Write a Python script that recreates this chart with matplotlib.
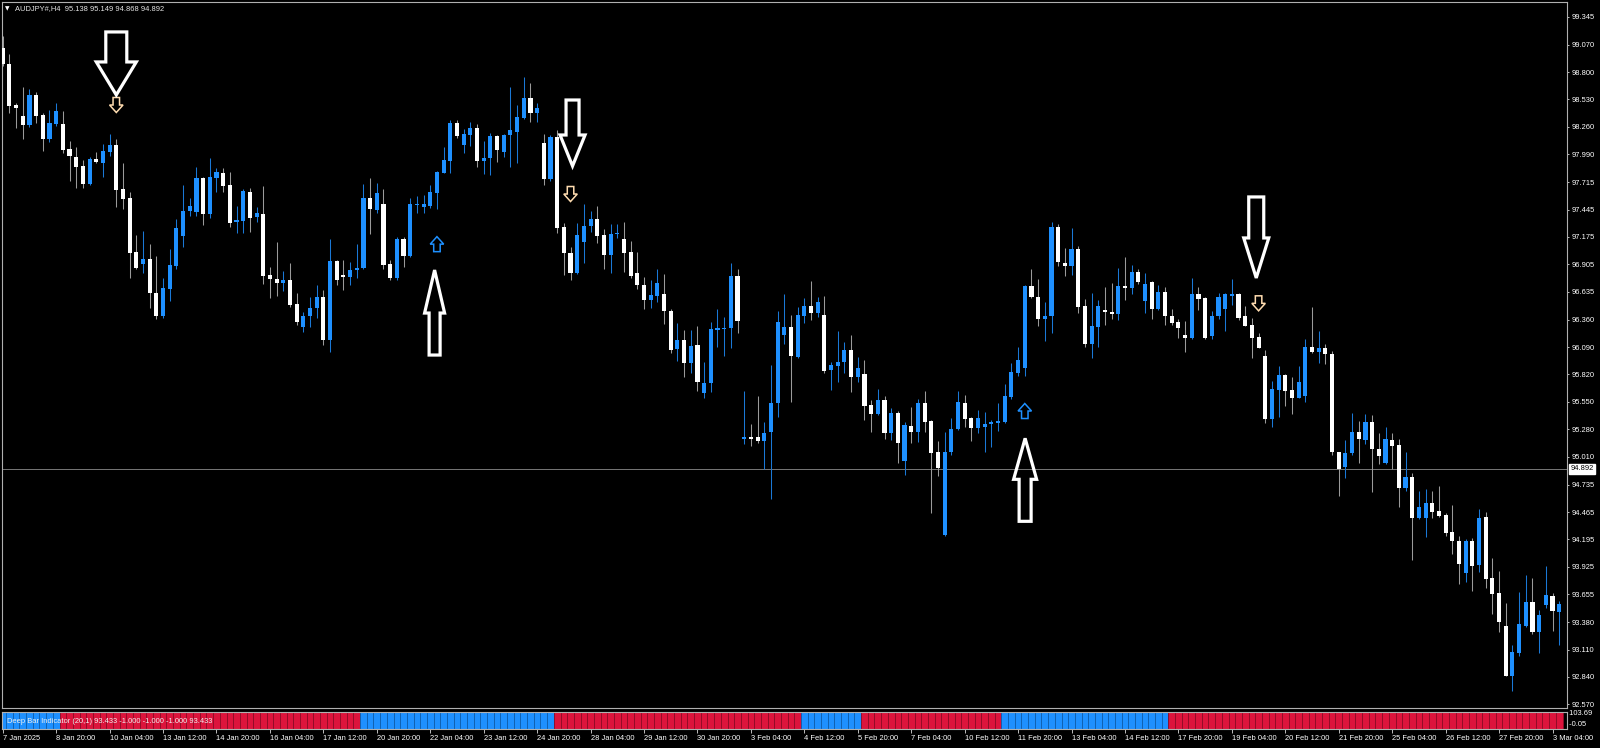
import numpy as np
import matplotlib
matplotlib.use('Agg')
import matplotlib.pyplot as plt
from matplotlib.patches import Polygon

plt.rcParams['font.family'] = ['Liberation Sans', 'DejaVu Sans']

# AUDJPY H4, 7 Jan 2025 12:00 .. 3 Mar 2025 08:00
opens = [
    99.037, 98.879, 98.475, 98.367, 98.278, 98.573, 98.377, 98.137, 98.288, 98.288,
    98.039, 97.960, 97.874, 97.694, 97.944, 97.901, 98.015, 98.081, 97.645, 97.562,
    97.030, 96.906, 96.955, 96.626, 96.396, 96.659, 96.892, 97.187, 97.430, 97.423,
    97.753, 97.401, 97.753, 97.802, 97.687, 97.319, 97.335, 97.621, 97.369, 97.401,
    96.800, 96.761, 96.718, 96.751, 96.512, 96.290, 96.396, 96.472, 96.586, 96.160,
    96.939, 96.791, 96.784, 96.850, 96.867, 97.557, 97.441, 97.497, 96.906, 96.768,
    97.155, 96.990, 97.491, 97.467, 97.481, 97.611, 97.808, 97.924, 98.301, 98.081,
    98.180, 98.246, 97.927, 97.950, 98.170, 98.009, 98.180, 98.213, 98.344, 98.541,
    98.393, 98.097, 97.743, 98.163, 97.270, 97.014, 96.823, 97.121, 97.287, 97.349,
    97.194, 96.997, 97.204, 97.152, 97.030, 96.823, 96.702, 96.554, 96.596, 96.613,
    96.448, 96.068, 96.160, 95.936, 96.111, 95.640, 95.739, 96.263, 96.269, 96.273,
    96.793, 95.181, 95.204, 95.207, 95.168, 95.251, 95.537, 96.209, 96.285, 95.995,
    96.396, 96.498, 96.429, 96.406, 95.864, 95.907, 95.940, 96.061, 95.798, 95.825,
    95.520, 95.428, 95.569, 95.241, 95.438, 94.970, 95.315, 95.250, 95.543, 95.365,
    95.053, 94.238, 95.053, 95.281, 95.543, 95.389, 95.295, 95.305, 95.332, 95.345,
    95.349, 95.601, 95.838, 95.884, 96.690, 96.586, 96.363, 96.399, 97.270, 96.922,
    96.892, 97.057, 96.495, 96.121, 96.290, 96.456, 96.439, 96.416, 96.690, 96.669,
    96.833, 96.547, 96.731, 96.462, 96.636, 96.396, 96.340, 96.209, 96.176, 96.610,
    96.571, 96.202, 96.396, 96.462, 96.593, 96.610, 96.396, 96.304, 96.186, 96.005,
    95.382, 95.667, 95.815, 95.667, 95.591, 95.607, 96.088, 96.045, 96.078, 96.022,
    95.053, 94.911, 95.043, 95.250, 95.175, 95.355, 95.086, 94.946, 95.175, 95.125,
    94.699, 94.808, 94.404, 94.404, 94.557, 94.475, 94.435, 94.271, 94.182, 93.862,
    94.182, 93.943, 94.419, 93.812, 93.665, 93.344, 92.853, 93.073, 93.344, 93.583,
    93.287, 93.548, 93.637, 93.483]

highs = [
    99.155, 98.977, 98.495, 98.649, 98.629, 98.606, 98.399, 98.426, 98.492, 98.416,
    98.123, 98.058, 97.934, 97.966, 98.015, 98.091, 98.189, 98.140, 97.901, 97.615,
    97.194, 97.234, 97.103, 96.987, 96.774, 97.054, 97.352, 97.687, 97.558, 97.867,
    97.769, 97.950, 97.851, 97.851, 97.812, 97.482, 97.648, 97.654, 97.473, 97.680,
    96.882, 97.128, 96.842, 96.916, 96.620, 96.438, 96.586, 96.702, 96.653, 97.155,
    96.948, 96.948, 96.932, 97.103, 97.694, 97.753, 97.710, 97.645, 96.948, 97.172,
    97.172, 97.557, 97.579, 97.589, 97.687, 97.825, 98.058, 98.327, 98.327, 98.235,
    98.311, 98.285, 98.120, 98.196, 98.180, 98.189, 98.649, 98.475, 98.754, 98.695,
    98.498, 98.186, 98.180, 98.229, 97.309, 97.079, 97.309, 97.497, 97.431, 97.477,
    97.253, 97.299, 97.299, 97.319, 97.138, 97.030, 96.784, 96.751, 96.857, 96.810,
    96.462, 96.324, 96.258, 96.258, 96.298, 95.946, 96.334, 96.462, 96.390, 96.921,
    96.857, 95.660, 95.328, 95.607, 95.354, 95.914, 96.445, 96.613, 96.406, 96.482,
    96.571, 96.741, 96.580, 96.593, 95.946, 96.249, 96.137, 96.209, 95.995, 95.963,
    95.569, 95.677, 95.607, 95.487, 95.463, 95.354, 95.503, 95.579, 95.660, 95.372,
    95.168, 95.251, 95.389, 95.660, 95.617, 95.404, 95.470, 95.453, 95.372, 95.537,
    95.726, 95.930, 96.094, 96.700, 96.857, 96.765, 96.532, 97.319, 97.302, 97.063,
    97.260, 97.086, 96.561, 96.620, 96.554, 96.679, 96.718, 96.867, 96.975, 96.899,
    96.859, 96.823, 96.741, 96.702, 96.679, 96.462, 96.363, 96.347, 96.774, 96.685,
    96.580, 96.445, 96.626, 96.620, 96.758, 96.626, 96.498, 96.380, 96.232, 96.061,
    95.756, 95.902, 95.825, 95.792, 95.905, 96.166, 96.488, 96.251, 96.117, 96.051,
    95.060, 95.175, 95.438, 95.361, 95.430, 95.420, 95.241, 95.300, 95.247, 95.182,
    95.053, 94.847, 94.670, 94.687, 94.670, 94.720, 94.452, 94.534, 94.232, 94.197,
    94.207, 94.494, 94.462, 94.010, 93.885, 93.568, 93.155, 93.674, 93.845, 93.812,
    93.497, 93.932, 93.670, 93.589]

lows = [
    98.859, 98.399, 98.245, 98.137, 98.255, 98.301, 98.025, 98.113, 98.268, 97.999,
    97.729, 97.660, 97.654, 97.687, 97.907, 97.769, 97.976, 97.467, 97.447, 96.774,
    96.856, 96.823, 96.472, 96.366, 96.373, 96.544, 96.859, 97.079, 97.381, 97.384,
    97.293, 97.359, 97.621, 97.621, 97.276, 97.217, 97.211, 97.227, 97.325, 96.709,
    96.570, 96.595, 96.645, 96.482, 96.308, 96.241, 96.284, 96.373, 96.111, 96.045,
    96.702, 96.653, 96.702, 96.768, 96.860, 97.204, 97.414, 96.857, 96.751, 96.751,
    96.876, 96.974, 97.408, 97.408, 97.456, 97.447, 97.802, 97.808, 98.147, 97.999,
    98.071, 97.862, 97.793, 97.786, 97.917, 97.966, 97.867, 97.907, 98.334, 98.311,
    98.311, 97.687, 97.729, 97.210, 96.801, 96.751, 96.807, 96.915, 97.227, 97.112,
    96.857, 96.823, 97.161, 96.833, 96.774, 96.662, 96.462, 96.472, 96.537, 96.314,
    96.035, 95.953, 95.798, 95.832, 95.660, 95.591, 95.644, 96.092, 96.004, 96.082,
    96.231, 95.132, 95.115, 95.148, 94.885, 94.590, 95.404, 96.117, 95.553, 95.985,
    96.330, 96.357, 96.383, 95.838, 95.667, 95.749, 95.832, 95.650, 95.749, 95.372,
    95.251, 95.421, 95.182, 95.175, 94.951, 94.831, 95.142, 95.158, 95.257, 94.458,
    94.819, 94.228, 95.027, 95.274, 95.306, 95.168, 95.241, 95.053, 95.102, 95.266,
    95.345, 95.575, 95.805, 95.805, 96.569, 96.298, 96.153, 96.226, 96.889, 96.791,
    96.801, 96.423, 96.088, 95.979, 96.092, 96.308, 96.363, 96.357, 96.554, 96.610,
    96.711, 96.429, 96.363, 96.456, 96.308, 96.308, 96.182, 96.038, 96.166, 96.456,
    96.166, 96.166, 96.363, 96.249, 96.505, 96.357, 96.295, 95.979, 96.078, 95.340,
    95.300, 95.404, 95.512, 95.428, 95.585, 95.553, 96.035, 95.936, 95.923, 95.027,
    94.622, 94.796, 95.027, 94.951, 95.136, 94.666, 94.938, 94.938, 94.885, 94.512,
    94.675, 93.991, 94.398, 94.216, 94.404, 94.418, 94.232, 94.051, 93.753, 93.779,
    93.686, 93.877, 93.719, 93.458, 93.286, 92.845, 92.705, 93.049, 93.331, 93.264,
    93.077, 93.516, 93.296, 93.155]

closes = [
    98.879, 98.465, 98.448, 98.278, 98.573, 98.367, 98.137, 98.295, 98.416, 98.032,
    97.973, 97.867, 97.694, 97.944, 97.917, 98.022, 98.081, 97.638, 97.546, 97.020,
    96.866, 96.955, 96.620, 96.399, 96.669, 96.899, 97.260, 97.430, 97.479, 97.753,
    97.401, 97.769, 97.818, 97.680, 97.315, 97.342, 97.631, 97.359, 97.414, 96.793,
    96.758, 96.718, 96.751, 96.505, 96.340, 96.396, 96.472, 96.580, 96.160, 96.939,
    96.751, 96.784, 96.850, 96.867, 97.557, 97.448, 97.605, 96.899, 96.768, 97.155,
    96.990, 97.497, 97.501, 97.497, 97.615, 97.818, 97.934, 98.301, 98.170, 98.186,
    98.246, 97.927, 97.957, 98.170, 98.032, 98.180, 98.229, 98.354, 98.541, 98.393,
    98.442, 97.743, 98.163, 97.260, 97.014, 96.823, 97.194, 97.287, 97.349, 97.187,
    96.997, 97.204, 97.217, 97.020, 96.793, 96.702, 96.554, 96.603, 96.725, 96.445,
    96.061, 96.160, 95.936, 96.104, 95.749, 95.733, 96.266, 96.279, 96.279, 96.793,
    96.347, 95.207, 95.189, 95.168, 95.247, 95.537, 96.334, 96.285, 96.002, 96.406,
    96.498, 96.429, 96.532, 95.858, 95.914, 95.946, 96.061, 95.798, 95.880, 95.513,
    95.428, 95.569, 95.241, 95.438, 95.148, 95.322, 95.250, 95.543, 95.356, 95.043,
    94.901, 95.059, 95.281, 95.547, 95.382, 95.290, 95.389, 95.332, 95.352, 95.355,
    95.607, 95.841, 95.963, 96.690, 96.579, 96.363, 96.399, 97.270, 96.932, 96.892,
    97.057, 96.488, 96.121, 96.301, 96.495, 96.439, 96.416, 96.690, 96.669, 96.833,
    96.734, 96.711, 96.462, 96.629, 96.396, 96.330, 96.281, 96.182, 96.610, 96.561,
    96.182, 96.399, 96.586, 96.610, 96.613, 96.380, 96.301, 96.182, 96.084, 95.382,
    95.681, 95.815, 95.660, 95.591, 95.742, 96.088, 96.038, 96.078, 96.019, 95.053,
    94.885, 95.043, 95.250, 95.184, 95.355, 95.086, 95.020, 95.184, 95.119, 94.705,
    94.813, 94.404, 94.518, 94.557, 94.468, 94.425, 94.261, 94.182, 93.953, 94.182,
    93.937, 94.409, 93.805, 93.658, 93.385, 92.853, 93.089, 93.359, 93.583, 93.287,
    93.455, 93.647, 93.493, 93.556]

time_labels = ['7 Jan 2025', '8 Jan 20:00', '10 Jan 04:00', '13 Jan 12:00', '14 Jan 20:00',
               '16 Jan 04:00', '17 Jan 12:00', '20 Jan 20:00', '22 Jan 04:00', '23 Jan 12:00',
               '24 Jan 20:00', '28 Jan 04:00', '29 Jan 12:00', '30 Jan 20:00', '3 Feb 04:00',
               '4 Feb 12:00', '5 Feb 20:00', '7 Feb 04:00', '10 Feb 12:00', '11 Feb 20:00',
               '13 Feb 04:00', '14 Feb 12:00', '17 Feb 20:00', '19 Feb 04:00', '20 Feb 12:00',
               '21 Feb 20:00', '25 Feb 04:00', '26 Feb 12:00', '27 Feb 20:00', '3 Mar 04:00']

price_ticks = [99.345, 99.070, 98.800, 98.530, 98.260, 97.990, 97.715, 97.445, 97.175,
               96.905, 96.635, 96.360, 96.090, 95.820, 95.550, 95.280, 95.010, 94.735,
               94.465, 94.195, 93.925, 93.655, 93.380, 93.110, 92.840, 92.570]

bid_price = 94.892
header = 'AUDJPY#,H4  95.138 95.149 94.868 94.892'
ind_label = 'Deep Bar Indicator (20,1) 93.433 -1.000 -1.000 -1.000 93.433'

# deep bar state: (sign, number of bars)
deep_bar_runs = [(1, 9), (-1, 45), (1, 29), (-1, 37), (1, 9), (-1, 21), (1, 25), (-1, 59)]

# indicator arrows: bar index, price, direction
signal_idx = [17, 65, 85, 153, 188]
signal_price = [98.475, 97.104, 97.598, 95.460, 96.521]
signal_dir = [-1, 1, -1, 1, -1]

# hand drawn callout arrows: x (bar units), tip price, direction
callout_x = [17.0, 64.65, 85.3, 153.05, 187.65]
callout_tip = [98.574, 96.849, 97.874, 95.191, 96.771]
callout_dir = [-1, 1, -1, 1, -1]


W, H = 1600, 748
fig = plt.figure(figsize=(W / 100, H / 100), dpi=100, facecolor='black')
ax = fig.add_axes([2 / W, 40 / H, 1565 / W, 706 / H], facecolor='black')
ax2 = fig.add_axes([2 / W, 19 / H, 1565 / W, 17 / H], facecolor='black')

x0, x1 = -0.11, 234.17
y0, y1 = 92.534, 99.4898
ax.set_xlim(x0, x1)
ax.set_ylim(y0, y1)
ax2.set_xlim(x0, x1)
ax2.set_ylim(0, 1)

xpp = (x1 - x0) / 1565.0
ypp = (y1 - y0) / 706.0

idx = np.arange(len(opens))
o = np.array(opens)
hi = np.array(highs)
lo = np.array(lows)
c = np.array(closes)
bull = c > o

ax.axhline(bid_price, color='#777777', lw=0.7, zorder=1)

ax.vlines(idx, lo, hi, colors=np.where(bull, '#1a78d6', '#9a9a9a'), lw=0.75, zorder=2)
body_lo = np.minimum(o, c)
body_h = np.maximum(np.abs(c - o), 0.012)
ax.bar(idx, body_h, bottom=body_lo, width=0.62,
       color=np.where(bull, '#1e90ff', '#ffffff'), lw=0, zorder=3)


def arrow_pts(xc, tip, d, length, head_len, shaft_w, head_w):
    pts = [(0, 0), (-head_w / 2, head_len), (-shaft_w / 2, head_len),
           (-shaft_w / 2, length), (shaft_w / 2, length),
           (shaft_w / 2, head_len), (head_w / 2, head_len)]
    return [(xc + px * xpp, tip - d * py * ypp) for px, py in pts]


# small hollow signal arrows
for i, p, d in zip(signal_idx, signal_price, signal_dir):
    col = '#1e90ff' if d > 0 else '#ffdcb0'
    tip = p + d * 7.5 * ypp
    ax.add_patch(Polygon(arrow_pts(i, tip, d, 15, 7.5, 6.5, 13.5), closed=True,
                         fc='none', ec=col, lw=1.1, zorder=6))

# big white callouts
sizes = [(63, 33, 21, 40), (85, 43, 11, 20), (66, 31, 13, 25), (83, 41, 12, 23), (81, 40, 15, 25)]
for xc, tip, d, sz in zip(callout_x, callout_tip, callout_dir, sizes):
    ax.add_patch(Polygon(arrow_pts(xc, tip, d, *sz), closed=True, fc='none',
                         ec='white', lw=2.3, joinstyle='miter', zorder=7))

# price scale
ax.yaxis.tick_right()
ax.set_yticks(price_ticks)
ax.set_yticklabels(['%.3f' % v for v in price_ticks])
ax.tick_params(axis='y', colors='#bdbdbd', labelcolor='white', labelsize=5.4,
               length=1.6, width=0.7, pad=1.5)
ax.tick_params(axis='x', bottom=False, labelbottom=False)
ax.annotate('%.3f' % bid_price, xy=(1.0, bid_price), xycoords=('axes fraction', 'data'),
            xytext=(2.5, 0), textcoords='offset points', ha='left', va='center',
            fontsize=5.4, color='black',
            bbox=dict(boxstyle='square,pad=0.2', fc='white', ec='white'))

# deep bar indicator pane
state = np.concatenate([[s] * n for s, n in deep_bar_runs])
ax2.bar(idx, 1.0, bottom=0, width=1.0,
        color=np.where(state > 0, '#1e90ff', '#dc143c'),
        edgecolor=np.where(state > 0, '#0f5fae', '#8e0c27'), lw=0.6)
ax2.set_yticks([])
ax2.set_xticks(np.arange(0, len(opens), 8))
ax2.set_xticklabels(time_labels)
for t in ax2.get_xticklabels():
    t.set_ha('left')
ax2.tick_params(axis='x', colors='#bdbdbd', labelcolor='white', labelsize=5.4,
                length=3, width=0.7, pad=1.5)
ax2.text(1.0, 0.9, ' 103.69', transform=ax2.transAxes, fontsize=5.4, color='white',
         ha='left', va='center')
ax2.text(1.0, 0.25, ' -0.05', transform=ax2.transAxes, fontsize=5.4, color='white',
         ha='left', va='center')
ax2.text(5 / 1565, 0.45, ind_label, transform=ax2.transAxes, fontsize=5.4,
         color='#f0f0f0', ha='left', va='center', zorder=5)

for a in (ax, ax2):
    for s in a.spines.values():
        s.set_color('#b0b0b0')
        s.set_linewidth(0.8)

fig.text(5 / W, 1 - 8.5 / H, '\u25bc', fontsize=4.2, color='white', ha='left',
         va='center', family=['DejaVu Sans'])
fig.text(15 / W, 1 - 8.5 / H, header, fontsize=5.4, color='#e6e6e6', ha='left', va='center')

fig.savefig('out.png', dpi=100, facecolor='black')
